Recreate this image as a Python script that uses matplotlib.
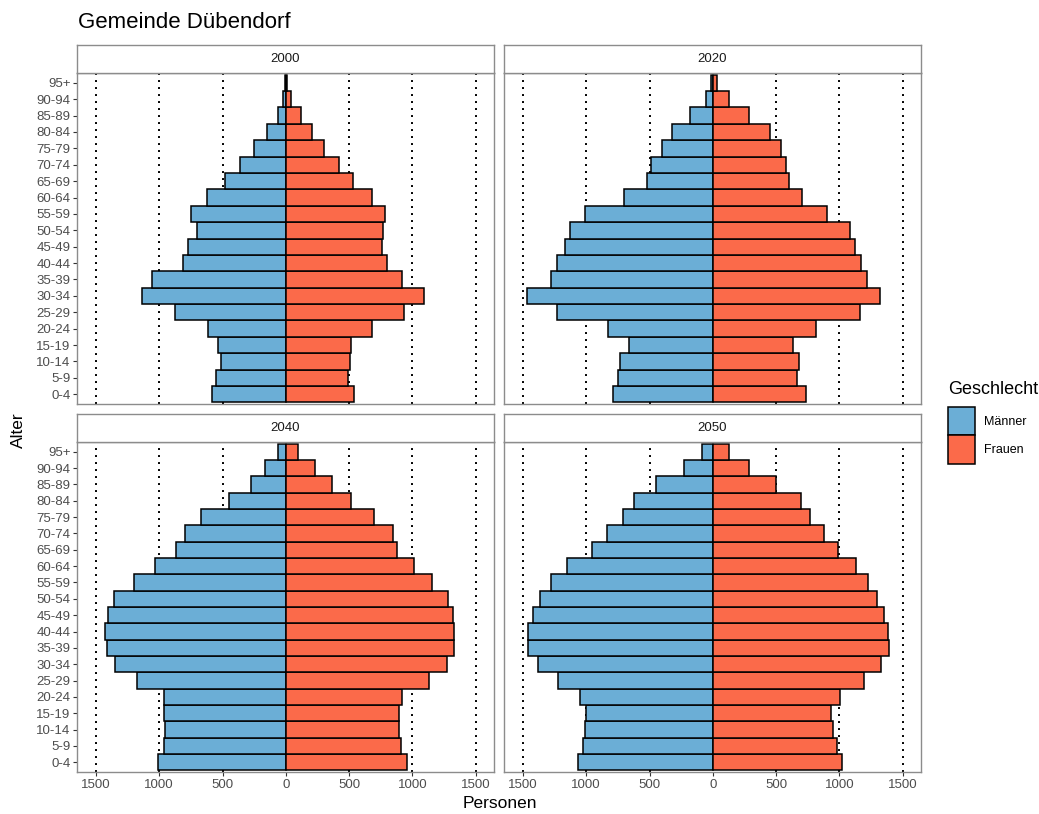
import numpy as np
import matplotlib
matplotlib.use("Agg")
import matplotlib.pyplot as plt
from matplotlib.patches import Patch

plt.rcParams['font.family'] = ['Liberation Sans', 'DejaVu Sans']

# age groups, bottom to top
ages = ['0-4', '5-9', '10-14', '15-19', '20-24', '25-29', '30-34', '35-39',
        '40-44', '45-49', '50-54', '55-59', '60-64', '65-69', '70-74',
        '75-79', '80-84', '85-89', '90-94', '95+']

years = ['2000', '2020', '2040', '2050']

# values listed top (95+) to bottom (0-4)
maenner_2000 = [8, 21, 58, 147, 255, 361, 484, 626, 753, 700, 771, 816, 1061,
                1134, 879, 611, 534, 511, 550, 582]
frauen_2000 = [12, 39, 118, 208, 303, 418, 532, 679, 782, 768, 761, 797, 916,
               1089, 937, 682, 518, 505, 489, 537]

maenner_2020 = [16, 53, 184, 321, 400, 489, 524, 703, 1011, 1126, 1168, 1232,
                1282, 1468, 1232, 829, 661, 734, 750, 789]
frauen_2020 = [32, 129, 287, 455, 537, 576, 605, 703, 905, 1087, 1126, 1174,
               1221, 1321, 1161, 813, 637, 679, 668, 737]

maenner_2040 = [61, 163, 279, 450, 671, 800, 866, 1034, 1203, 1358, 1405, 1429,
                1413, 1353, 1176, 966, 966, 958, 966, 1011]
frauen_2040 = [97, 229, 368, 518, 697, 845, 882, 1011, 1153, 1282, 1324, 1329,
               1329, 1276, 1134, 921, 895, 897, 913, 958]

maenner_2050 = [87, 224, 447, 621, 713, 834, 958, 1150, 1282, 1368, 1418, 1463,
                1463, 1384, 1221, 1053, 1000, 1008, 1026, 1068]
frauen_2050 = [129, 287, 503, 697, 771, 876, 987, 1129, 1224, 1297, 1350, 1382,
               1392, 1332, 1197, 1003, 934, 950, 979, 1018]

maenner = [maenner_2000, maenner_2020, maenner_2040, maenner_2050]
frauen = [frauen_2000, frauen_2020, frauen_2040, frauen_2050]

col_m = '#6BAED6'
col_f = '#FB6A4A'
border = '#8c8c8c'
W, H = 1039, 814

fig = plt.figure(figsize=(W / 100, H / 100), dpi=100)

# panel boxes in pixels: (left, top, right, bottom)
boxes = [(77, 73, 494, 404), (504, 73, 921, 404),
         (77, 442, 494, 772), (504, 442, 921, 772)]
strip_h = 28

ticks = [-1500, -1000, -500, 0, 500, 1000, 1500]
y = np.arange(len(ages))

for i, (x0, y0, x1, y1) in enumerate(boxes):
    ax = fig.add_axes([x0 / W, 1 - y1 / H, (x1 - x0) / W, (y1 - y0) / H])
    m = np.array(maenner[i][::-1])
    f = np.array(frauen[i][::-1])
    for v in [-1500, -1000, -500, 500, 1000, 1500]:
        ax.axvline(v, color='black', linestyle=(0, (1, 2.6)), linewidth=1.4, zorder=1)
    ax.barh(y, -m, height=1.0, color=col_m, edgecolor='black', linewidth=1.1, zorder=2)
    ax.barh(y, f, height=1.0, color=col_f, edgecolor='black', linewidth=1.1, zorder=2)
    ax.set_xlim(-1650, 1645)
    ax.set_ylim(-0.6, len(ages) - 0.4)
    for s in ax.spines.values():
        s.set_color(border)
        s.set_linewidth(1.0)
    ax.tick_params(direction='out', length=2.75, width=0.8, color='#333333',
                   labelcolor='#4D4D4D', labelsize=9.5, pad=2)
    ax.set_xticks(ticks)
    ax.set_yticks(y)
    if i in (0, 2):
        ax.set_yticklabels(ages)
    else:
        ax.tick_params(axis='y', left=False, labelleft=False)
    if i in (2, 3):
        ax.set_xticklabels([str(abs(t)) for t in ticks])
    else:
        ax.tick_params(axis='x', bottom=False, labelbottom=False)

    # facet strip
    sax = fig.add_axes([x0 / W, 1 - y0 / H, (x1 - x0) / W, strip_h / H])
    sax.set_xticks([])
    sax.set_yticks([])
    sax.set_facecolor('white')
    for s in sax.spines.values():
        s.set_color(border)
        s.set_linewidth(1.0)
    sax.text(0.5, 0.5, years[i], ha='center', va='center', fontsize=9.5,
             color='#1A1A1A', transform=sax.transAxes)

fig.text(78 / W, 1 - 22 / H, 'Gemeinde Dübendorf', fontsize=16, ha='left',
         va='center', color='black')
fig.text(500 / W, 1 - 804 / H, 'Personen', fontsize=12.5, ha='center', va='center')
fig.text(18 / W, 1 - 430 / H, 'Alter', fontsize=12.5, ha='center', va='center',
         rotation=90)

# legend
fig.text(948 / W, 1 - 390 / H, 'Geschlecht', fontsize=13, ha='left', va='center')
handles = [Patch(facecolor=col_m, edgecolor='black', linewidth=1.1, label='Männer'),
           Patch(facecolor=col_f, edgecolor='black', linewidth=1.1, label='Frauen')]
fig.legend(handles=handles, loc='upper left',
           bbox_to_anchor=(948 / W, 1 - 407 / H), frameon=False,
           fontsize=9, handlelength=2.15, handleheight=3.1,
           handletextpad=0.75, labelspacing=0.0, borderpad=0, borderaxespad=0)

fig.savefig('out.png', dpi=100)
